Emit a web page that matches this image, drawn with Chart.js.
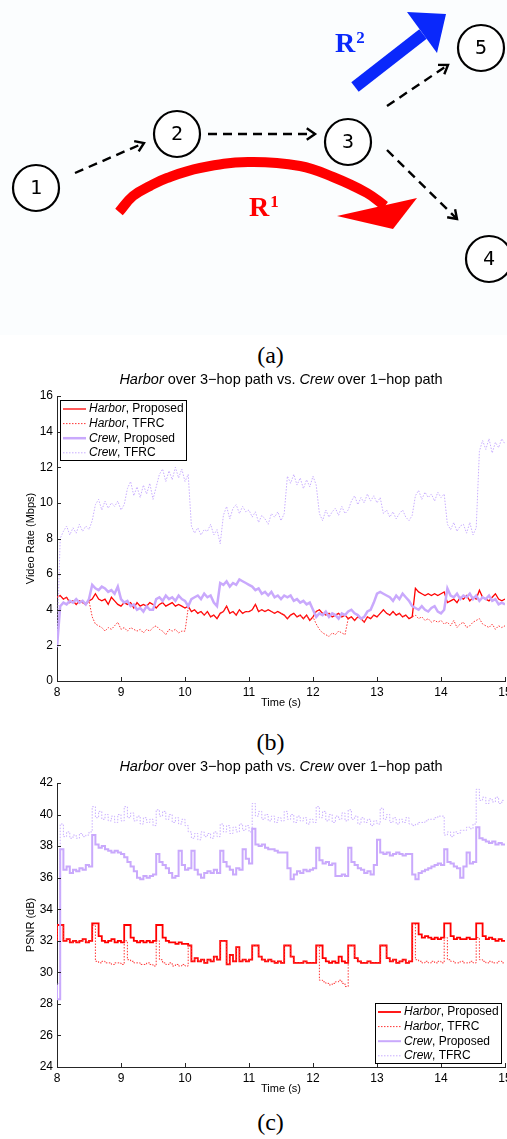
<!DOCTYPE html>
<html>
<head>
<meta charset="utf-8">
<title>Harbor over 3-hop path vs. Crew over 1-hop path</title>
<script src="https://cdn.jsdelivr.net/npm/chart.js@4/dist/chart.umd.min.js"></script>
<style>
html, body { margin: 0; padding: 0; background: #fff; width: 507px; height: 1139px; overflow: hidden; }
#wrap { position: relative; width: 507px; height: 1139px; overflow: hidden; }
canvas { position: absolute; left: 0; }
.cap { position: absolute; left: 0; width: 541px; text-align: center; font: 24px 'Liberation Serif', 'Times New Roman', serif; line-height: 24px; color: #000; }
</style>
</head>
<body>
<div id="wrap">
  <canvas id="diagram" width="507" height="340" style="top:0"></canvas>
  <div class="cap" style="top:343px">(a)</div>
  <canvas id="rate" width="522" height="345" style="top:370px"></canvas>
  <div class="cap" style="top:730px">(b)</div>
  <canvas id="psnr" width="522" height="344" style="top:757px"></canvas>
  <div class="cap" style="top:1110px">(c)</div>
</div>
<script>
'use strict';

// ---- diagram (a) ----
const nodeIds = ['1', '2', '3', '4', '5'];
const nodeX = [36, 177, 348, 489, 481];
const nodeY = [188, 134, 142, 259, 48];

// dashed hop links (start -> end)
const linkStartX = [75, 208, 387, 387];
const linkStartY = [173, 134, 106, 150];
const linkEndX = [144, 315, 448, 457];
const linkEndY = [143, 134, 65, 219];

// route R1 (curved) and R2 (straight)
const arcX = [119, 133, 150, 167, 200, 248, 300, 333, 367, 385];
const arcY = [212, 196, 186, 178, 168, 162, 166, 177, 193, 206];
const head1X = [337, 417, 393];
const head1Y = [216, 198, 229];
const shaft2X = [355, 423];
const shaft2Y = [87, 34];
const head2X = [407, 446, 437];
const head2Y = [12, 14, 53];
const routeNames = ['1', '2'];
const routeLabelX = [249, 335];
const routeLabelY = [216, 52];

// ---- charts (b) and (c) ----
const titleParts = [['Harbor', true], [' over 3\u2212hop path vs. ', false], ['Crew', true], [' over 1\u2212hop path', false]];
const legendNames = ['Harbor', 'Harbor', 'Crew', 'Crew'];
const legendSchemes = [', Proposed', ', TFRC', ', Proposed', ', TFRC'];
const xTicks = [8, 9, 10, 11, 12, 13, 14, 15];

const times = [];
for (let i = 0; i <= 140; i++) times.push(+(8 + i * 0.05).toFixed(2));

// video rate (Mbps)
const harborPropRate = [
  4.7,4.8,4.6,4.7,4.4,4.5,4.3,4.5,4.4,4.3,4.5,4.6,4.9,4.6,4.5,4.6,4.3,4.7,4.5,4.3,
  4.2,4.4,4.3,4.4,4.1,4.4,4.2,4.3,4.2,4.4,4.3,4.1,4.3,4.4,4.2,4.3,4.4,4.2,4.3,4.2,
  4.1,4.2,3.9,4.0,3.8,3.9,3.7,3.9,3.6,3.7,3.5,3.8,3.9,4.2,3.8,3.9,3.7,4.0,3.8,3.9,
  3.9,4.0,4.3,3.9,4.0,3.9,4.0,3.9,3.8,3.9,3.8,3.7,3.5,3.7,3.8,3.6,3.7,3.5,3.7,3.4,
  3.6,3.9,4.0,3.8,3.7,3.8,3.6,3.7,3.8,3.6,3.7,3.5,3.6,3.4,3.6,3.5,3.3,3.6,3.5,3.7,
  3.6,3.8,4.0,3.8,3.7,3.9,3.7,3.8,3.6,3.7,3.5,3.6,5.2,5.0,4.9,4.8,4.9,4.8,4.9,4.8,
  4.9,5.0,4.4,4.5,4.6,4.4,4.7,4.6,4.8,4.5,4.7,4.6,5.1,4.7,4.6,4.5,4.7,4.9,4.6,4.5,
  4.6
];
const harborTfrcRate = [
  4.7,4.8,4.6,4.7,4.4,4.5,4.3,4.5,4.4,4.3,4.5,3.6,3.2,3.1,3.0,2.8,3.0,2.9,3.1,3.3,
  2.9,3.0,2.8,3.0,2.9,2.8,2.9,2.7,2.9,2.8,3.0,3.1,2.9,2.8,2.6,2.9,2.8,2.9,2.7,2.8,
  2.8,4.1,3.9,4.0,3.8,3.9,3.7,3.9,3.6,3.7,3.5,3.8,3.9,4.2,3.8,3.9,3.7,4.0,3.8,3.9,
  3.9,4.0,4.3,3.9,4.0,3.9,4.0,3.9,3.8,3.9,3.8,3.7,3.5,3.7,3.8,3.6,3.7,3.5,3.7,3.4,
  3.6,3.2,2.9,2.7,2.6,2.5,2.7,2.6,2.8,2.7,2.6,3.5,3.6,3.4,3.6,3.5,3.3,3.6,3.5,3.7,
  3.6,3.8,4.0,3.8,3.7,3.9,3.7,3.8,3.6,3.7,3.5,3.6,3.7,3.5,3.6,3.4,3.5,3.3,3.4,3.3,
  3.4,3.2,3.3,3.1,3.4,3.0,3.2,3.3,3.0,3.1,3.3,3.4,3.5,3.2,3.1,3.0,3.2,2.9,3.1,3.0,
  3.1
];
const crewPropRate = [
  1.9,4.2,4.4,4.3,4.5,4.4,4.6,4.4,4.5,4.3,4.6,5.4,5.2,5.1,5.3,5.2,5.0,5.1,4.9,5.3,
  4.6,4.4,4.5,4.2,4.3,4.0,4.1,3.9,4.2,4.0,4.0,4.6,4.7,4.5,4.8,4.6,4.7,4.5,4.8,4.6,
  4.5,4.2,4.6,4.7,4.8,4.6,4.9,4.7,4.8,4.4,4.2,5.5,5.4,5.6,5.3,5.5,5.4,5.7,5.6,5.5,
  5.4,5.3,5.1,5.2,4.9,5.0,4.8,5.0,4.7,4.8,4.6,4.8,4.7,4.8,4.5,4.6,4.4,4.5,4.3,4.4,
  4.0,3.6,3.8,3.7,3.9,3.6,3.8,3.7,3.5,3.8,3.7,3.9,4.0,3.8,3.7,3.5,3.6,3.9,4.0,4.4,
  4.9,5.0,4.9,4.8,4.7,4.5,4.8,4.6,4.9,4.7,4.5,4.2,4.1,4.0,4.2,4.0,3.9,4.1,4.2,3.9,
  3.8,4.0,5.2,4.8,4.7,4.9,4.6,4.8,4.7,4.9,4.6,4.8,4.5,4.7,4.6,4.8,4.5,4.6,4.3,4.4,
  4.3
];
const crewTfrcRate = [
  2.0,8.0,8.4,8.7,8.2,8.6,8.3,8.8,8.4,8.7,8.5,9.0,9.9,10.2,9.6,10.1,9.7,10.0,9.8,10.1,
  9.6,9.9,10.8,11.2,10.4,10.9,10.3,11.0,10.5,11.1,10.2,10.9,11.6,11.9,11.2,11.8,11.3,12.0,11.4,11.9,
  11.2,11.6,8.7,8.3,8.6,8.2,8.5,8.4,8.8,8.2,8.5,7.7,9.3,9.8,9.1,9.7,9.9,9.4,9.8,9.5,
  9.6,9.2,9.5,8.9,9.3,9.1,8.8,9.4,9.2,9.5,9.0,9.4,11.5,11.1,11.6,11.0,11.4,10.8,11.3,10.9,
  11.5,11.0,9.4,9.0,9.6,9.2,9.5,9.7,9.3,9.8,9.4,9.6,10.1,10.4,9.9,10.3,10.0,10.5,10.1,10.4,
  10.0,10.3,9.4,9.6,9.2,9.5,9.1,9.4,9.6,9.2,9.0,9.3,10.4,10.7,10.2,10.6,10.3,10.5,10.1,10.6,
  10.3,10.5,8.8,8.5,8.9,8.4,8.7,8.8,8.3,8.9,8.2,8.6,12.9,13.5,13.0,13.6,12.8,13.4,13.1,13.6,
  13.3
];

// PSNR (dB)
const harborPropPsnr = [
  32.0,33.0,33.0,32.0,32.1,31.9,32.0,31.9,32.0,32.1,31.9,32.0,33.1,33.1,32.3,32.0,31.9,32.0,32.1,31.9,
  32.0,31.9,33.0,33.0,32.2,32.0,31.9,32.0,31.9,32.0,31.9,32.0,33.0,33.0,32.2,32.0,31.9,31.9,31.8,31.9,
  31.8,31.8,31.7,30.7,30.9,30.7,30.8,30.6,30.8,30.7,31.0,30.8,32.0,32.0,30.5,31.1,30.7,31.6,30.7,30.8,
  30.7,30.8,31.7,31.7,31.0,30.8,30.7,30.8,30.7,30.6,30.7,30.6,31.7,31.7,31.0,30.6,30.6,30.6,30.7,30.6,
  30.6,30.6,31.7,31.7,30.9,30.7,30.6,30.7,30.6,31.0,30.7,30.6,31.7,31.7,30.9,30.7,30.6,30.6,30.7,30.6,
  30.6,30.6,31.7,31.7,30.9,30.7,30.8,30.6,30.7,30.8,30.6,30.7,33.1,33.1,32.4,32.2,32.3,32.2,32.1,32.2,
  32.1,32.2,33.1,33.1,32.3,32.1,32.2,32.1,32.1,32.2,32.1,32.1,33.1,33.1,32.3,32.1,32.2,32.1,32.0,32.1,
  32.0
];
const harborTfrcPsnr = [
  32.0,33.0,33.0,32.0,32.1,31.9,32.0,31.9,32.0,32.1,31.9,32.0,33.0,30.7,30.6,30.7,30.6,30.6,30.5,30.6,
  30.6,30.5,32.0,30.8,30.7,30.6,30.6,30.5,30.5,30.6,30.5,30.4,32.0,30.8,30.6,30.5,30.6,30.4,30.5,30.4,
  30.5,30.4,31.7,30.7,30.9,30.7,30.8,30.6,30.8,30.7,31.0,30.8,32.0,32.0,30.5,31.1,30.7,31.6,30.7,30.8,
  30.7,30.8,31.7,31.7,31.0,30.8,30.7,30.8,30.7,30.6,30.7,30.6,31.7,31.7,31.0,30.6,30.6,30.6,30.7,30.6,
  30.6,30.6,31.7,29.5,29.4,29.3,29.2,29.3,29.4,29.5,29.3,29.1,31.7,31.7,30.9,30.7,30.6,30.6,30.7,30.6,
  30.6,30.6,31.7,31.7,30.9,30.7,30.8,30.6,30.7,30.8,30.6,30.7,33.1,30.8,30.7,30.6,30.7,30.6,30.7,30.6,
  30.7,30.6,32.2,30.8,30.7,30.6,30.6,30.7,30.6,30.6,30.7,30.6,32.2,30.8,30.7,30.6,30.7,30.6,30.6,30.7,
  30.6
];
const crewPropPsnr = [
  29.2,28.3,37.8,36.5,36.7,36.3,36.5,36.4,36.6,36.5,36.8,36.7,38.7,38.1,37.9,38.0,37.8,37.7,37.6,37.7,
  37.6,37.5,37.3,37.0,36.7,36.4,36.0,35.9,36.1,36.0,36.1,36.2,37.5,37.0,36.8,36.6,36.3,36.0,36.1,37.7,
  36.8,36.5,36.6,37.7,36.5,36.2,36.0,36.3,36.4,36.3,36.5,36.3,37.7,37.0,36.7,36.5,36.2,36.6,36.5,37.8,
  37.2,36.9,39.1,38.1,38.0,38.1,37.9,37.8,37.8,37.7,37.6,37.6,37.6,36.6,35.9,36.2,36.4,36.3,36.5,36.4,
  36.5,36.6,37.9,37.1,36.9,37.0,36.8,36.9,36.1,36.1,36.2,36.1,37.9,37.0,36.8,36.6,36.5,36.3,36.4,36.2,
  36.8,38.4,37.6,37.5,37.6,37.4,37.5,37.6,37.5,37.4,37.5,37.5,36.2,35.9,36.3,36.4,36.5,36.6,36.7,36.8,
  36.9,36.8,37.8,37.0,36.9,36.7,36.6,36.0,36.7,37.6,36.9,37.0,39.2,38.5,38.4,38.3,38.2,38.3,38.1,38.2,
  38.1
];
const crewTfrcPsnr = [
  29.2,29.3,39.4,38.6,38.9,38.5,38.7,38.5,38.8,38.6,38.7,38.9,40.5,39.8,40.2,39.7,40.0,39.6,39.9,39.5,
  40.0,39.6,40.5,39.8,40.1,39.6,39.9,39.4,39.8,39.5,39.7,39.3,40.3,39.9,40.2,39.7,40.0,39.5,39.8,39.4,
  39.7,39.3,38.9,38.5,38.8,38.4,38.9,38.6,38.8,38.5,38.9,38.6,39.4,38.9,39.3,38.8,39.2,38.9,39.4,39.0,
  39.3,38.9,40.7,39.9,40.2,39.7,40.0,39.6,39.9,39.5,39.8,39.6,40.2,39.7,40.0,39.5,39.9,39.6,39.8,39.4,
  39.7,39.5,40.5,39.8,40.2,39.6,40.0,39.5,39.9,39.7,40.1,39.6,40.3,39.7,39.9,39.4,39.8,39.5,39.7,39.3,
  39.6,39.4,40.4,39.7,40.0,39.5,39.8,39.4,39.7,39.5,39.8,39.4,39.3,39.4,39.5,39.5,39.6,39.7,39.7,39.8,
  39.9,39.9,38.7,38.9,38.6,38.9,38.8,39.0,39.0,39.2,39.1,39.4,41.6,40.9,41.1,40.7,41.0,40.8,41.1,40.7,
  40.9
];

const SANS = '"Liberation Sans", Arial, Helvetica, sans-serif';
const SERIF = '"Liberation Serif", "Times New Roman", serif';

function toPoints(xs, ys) {
  return xs.map((x, i) => ({x: x, y: ys[i]}));
}

// text with italic / upright pieces, drawn one after another
function drawMixed(ctx, parts, x, y, size, align) {
  const fonts = parts.map(p => (p[1] ? 'italic ' : '') + size + 'px ' + SANS);
  let total = 0;
  const widths = parts.map((p, i) => {
    ctx.font = fonts[i];
    const w = ctx.measureText(p[0]).width;
    total += w;
    return w;
  });
  let cx = align === 'center' ? x - total / 2 : x;
  ctx.textAlign = 'left';
  ctx.textBaseline = 'middle';
  ctx.fillStyle = '#000';
  parts.forEach((p, i) => {
    ctx.font = fonts[i];
    ctx.fillText(p[0], cx, y);
    cx += widths[i];
  });
}

const plotDecor = {
  id: 'plotDecor',
  afterDraw(chart, args, opts) {
    const {ctx, chartArea: area} = chart;
    const xs = chart.scales.x;
    const ys = chart.scales.y;
    ctx.save();

    // MATLAB style inward ticks
    ctx.strokeStyle = '#262626';
    ctx.lineWidth = 1;
    ctx.beginPath();
    xs.ticks.forEach(t => {
      const px = Math.round(xs.getPixelForValue(t.value)) + 0.5;
      ctx.moveTo(px, area.bottom);
      ctx.lineTo(px, area.bottom - 4);
    });
    ys.ticks.forEach(t => {
      const py = Math.round(ys.getPixelForValue(t.value)) + 0.5;
      ctx.moveTo(area.left, py);
      ctx.lineTo(area.left + 4, py);
    });
    ctx.stroke();

    drawMixed(ctx, titleParts, (area.left + area.right) / 2, opts.titleY, 14.5, 'center');

    // legend box
    const boxW = 126, boxH = 60, rowH = 14.6;
    let bx, by;
    if (opts.corner === 'nw') {
      bx = Math.round(area.left + 3);
      by = Math.round(area.top + 4);
    } else {
      bx = Math.round(area.right - 4 - boxW);
      by = Math.round(area.bottom - 4 - boxH);
    }
    ctx.fillStyle = '#fff';
    ctx.fillRect(bx, by, boxW, boxH);
    ctx.strokeStyle = '#000';
    ctx.lineWidth = 1;
    ctx.strokeRect(bx + 0.5, by + 0.5, boxW, boxH);
    chart.data.datasets.forEach((ds, i) => {
      const ry = by + 9 + i * rowH;
      ctx.setLineDash(ds.borderDash);
      ctx.strokeStyle = ds.borderColor;
      ctx.lineWidth = ds.borderWidth;
      ctx.beginPath();
      ctx.moveTo(bx + 3, ry);
      ctx.lineTo(bx + 26, ry);
      ctx.stroke();
      ctx.setLineDash([]);
      drawMixed(ctx, [[legendNames[i], true], [legendSchemes[i], false]], bx + 29, ry, 12, 'left');
    });
    ctx.restore();
  }
};

function buildPlot(id, series, yMin, yMax, yTitle, stepped, corner) {
  const styles = [
    {borderColor: '#ff0000', borderWidth: stepped ? 1.8 : 1.3, borderDash: [], order: 4},
    {borderColor: '#ff3333', borderWidth: 1, borderDash: [1.5, 1.5], order: 3},
    {borderColor: '#c9a9fc', borderWidth: stepped ? 2 : 2.5, borderDash: [], order: 2},
    {borderColor: '#c8adff', borderWidth: 1, borderDash: [1.5, 1.5], order: 1}
  ];
  const datasets = series.map((values, i) => Object.assign({
    label: legendNames[i] + legendSchemes[i],
    data: toPoints(times, values),
    pointRadius: 0,
    tension: 0,
    fill: false,
    stepped: stepped ? 'after' : false
  }, styles[i]));

  return new Chart(document.getElementById(id), {
    type: 'line',
    data: {datasets: datasets},
    options: {
      responsive: false,
      animation: false,
      events: [],
      layout: {autoPadding: false, padding: {top: 26, right: 17, left: 0, bottom: 0}},
      scales: {
        x: {
          type: 'linear',
          min: 8,
          max: 15,
          afterBuildTicks: s => { s.ticks = xTicks.map(v => ({value: v})); },
          afterFit: s => { s.height = 34; },
          grid: {display: false, drawTicks: false},
          border: {display: true, color: '#262626', width: 1},
          ticks: {padding: 4, color: '#000', font: {family: SANS, size: 12}, maxRotation: 0},
          title: {display: true, text: 'Time (s)', color: '#000', font: {family: SANS, size: 11}, padding: {top: 0, bottom: 5}}
        },
        y: {
          type: 'linear',
          min: yMin,
          max: yMax,
          ticks: {stepSize: 2, padding: 4, color: '#000', font: {family: SANS, size: 12}},
          afterFit: s => { s.width = 57; },
          grid: {display: false, drawTicks: false},
          border: {display: true, color: '#262626', width: 1},
          title: {display: true, text: yTitle, color: '#000', font: {family: SANS, size: 11}, padding: {top: 24, bottom: 0}}
        }
      },
      plugins: {
        legend: {display: false},
        tooltip: {enabled: false},
        plotDecor: {titleY: 10, corner: corner}
      }
    },
    plugins: [plotDecor]
  });
}

// ---- diagram drawing helpers ----
const diagramDecor = {
  id: 'diagramDecor',
  beforeDraw(chart) {
    const ctx = chart.ctx;
    ctx.save();
    ctx.fillStyle = '#fbfdfe';
    ctx.fillRect(0, 0, chart.width, 335);
    ctx.restore();
  },
  afterDatasetsDraw(chart) {
    const ctx = chart.ctx;
    ctx.save();
    chart.data.datasets.forEach((ds, i) => {
      const pts = chart.getDatasetMeta(i).data;
      if (ds.role === 'head') {
        ctx.fillStyle = ds.headColor;
        ctx.beginPath();
        pts.forEach((p, j) => (j ? ctx.lineTo(p.x, p.y) : ctx.moveTo(p.x, p.y)));
        ctx.closePath();
        ctx.fill();
      } else if (ds.role === 'link') {
        const a = pts[0], b = pts[pts.length - 1];
        const ang = Math.atan2(b.y - a.y, b.x - a.x);
        const arm = 10, spread = 0.6;
        ctx.strokeStyle = '#000';
        ctx.lineWidth = 2.4;
        ctx.setLineDash([]);
        ctx.lineCap = 'butt';
        ctx.beginPath();
        ctx.moveTo(b.x - arm * Math.cos(ang - spread), b.y - arm * Math.sin(ang - spread));
        ctx.lineTo(b.x, b.y);
        ctx.lineTo(b.x - arm * Math.cos(ang + spread), b.y - arm * Math.sin(ang + spread));
        ctx.stroke();
      } else if (ds.role === 'nodes') {
        ctx.fillStyle = '#000';
        ctx.font = '20px "DejaVu Sans Mono", monospace';
        ctx.textAlign = 'center';
        ctx.textBaseline = 'middle';
        pts.forEach((p, j) => ctx.fillText(nodeIds[j], p.x, p.y + 1));
      } else if (ds.role === 'routeLabels') {
        pts.forEach((p, j) => {
          ctx.fillStyle = ds.labelColors[j];
          ctx.textAlign = 'left';
          ctx.textBaseline = 'alphabetic';
          ctx.font = 'bold 28px ' + SERIF;
          ctx.fillText('R', p.x, p.y);
          const w = ctx.measureText('R').width;
          ctx.font = 'bold 17px ' + SERIF;
          ctx.fillText(routeNames[j], p.x + w + 1, p.y - 9);
        });
      }
    });
    ctx.restore();
  }
};

function buildDiagram() {
  const datasets = [];
  datasets.push({
    role: 'nodes',
    data: toPoints(nodeX, nodeY),
    pointRadius: 23,
    pointBorderWidth: 2.2,
    pointBorderColor: '#000',
    pointBackgroundColor: '#fff',
    showLine: false,
    order: 0
  });
  linkStartX.forEach((x, i) => {
    datasets.push({
      role: 'link',
      data: toPoints([x, linkEndX[i]], [linkStartY[i], linkEndY[i]]),
      showLine: true,
      borderColor: '#000',
      borderWidth: 2.4,
      borderDash: [9, 6],
      pointRadius: 0,
      order: 2
    });
  });
  datasets.push({
    role: 'arc',
    data: toPoints(arcX, arcY),
    showLine: true,
    borderColor: '#ff0000',
    borderWidth: 10,
    tension: 0.4,
    borderCapStyle: 'butt',
    pointRadius: 0,
    order: 3
  });
  datasets.push({
    role: 'head',
    headColor: '#ff0000',
    data: toPoints(head1X, head1Y),
    showLine: false,
    pointRadius: 0,
    order: 3
  });
  datasets.push({
    role: 'shaft',
    data: toPoints(shaft2X, shaft2Y),
    showLine: true,
    borderColor: '#0a28fb',
    borderWidth: 12,
    borderCapStyle: 'butt',
    pointRadius: 0,
    order: 3
  });
  datasets.push({
    role: 'head',
    headColor: '#0a28fb',
    data: toPoints(head2X, head2Y),
    showLine: false,
    pointRadius: 0,
    order: 3
  });
  datasets.push({
    role: 'routeLabels',
    labelColors: ['#ff0000', '#0a28fb'],
    data: toPoints(routeLabelX, routeLabelY),
    showLine: false,
    pointRadius: 0,
    order: 3
  });

  return new Chart(document.getElementById('diagram'), {
    type: 'scatter',
    data: {datasets: datasets},
    options: {
      responsive: false,
      animation: false,
      events: [],
      layout: {autoPadding: false, padding: 0},
      scales: {
        x: {type: 'linear', min: 0, max: 507, display: false},
        y: {type: 'linear', min: 0, max: 340, reverse: true, display: false}
      },
      plugins: {legend: {display: false}, tooltip: {enabled: false}}
    },
    plugins: [diagramDecor]
  });
}

buildDiagram();
buildPlot('rate', [harborPropRate, harborTfrcRate, crewPropRate, crewTfrcRate], 0, 16, 'Video Rate (Mbps)', false, 'nw');
buildPlot('psnr', [harborPropPsnr, harborTfrcPsnr, crewPropPsnr, crewTfrcPsnr], 24, 42, 'PSNR (dB)', true, 'se');
</script>
</body>
</html>
